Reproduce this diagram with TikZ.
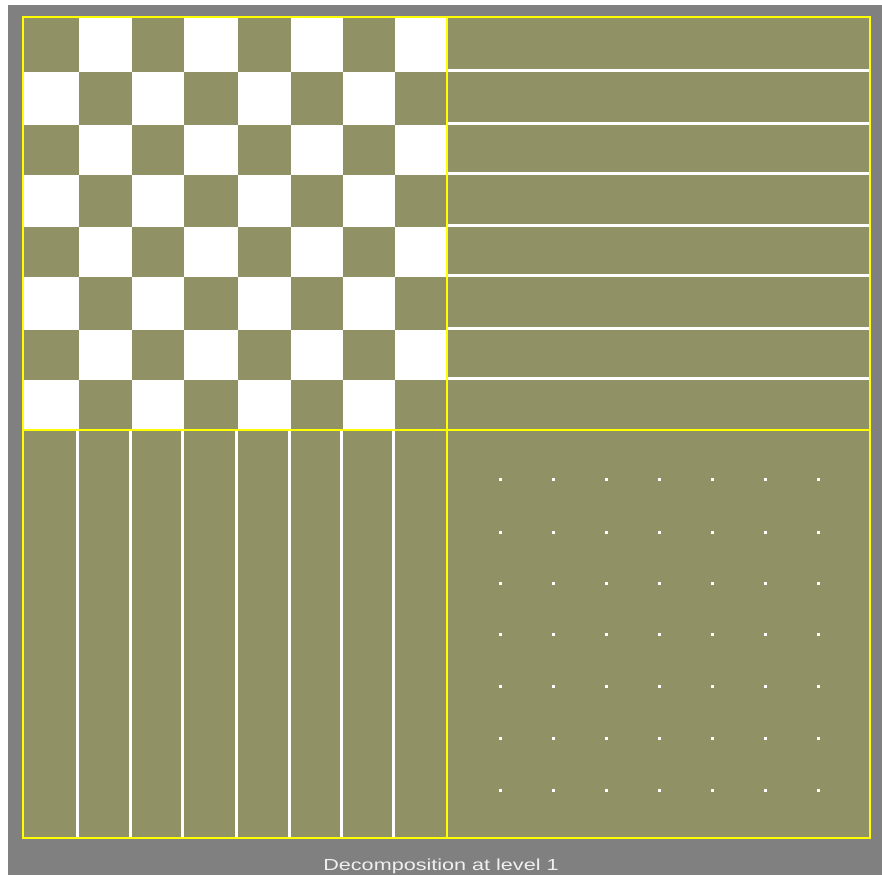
\documentclass[tikz,border=0pt]{standalone}
\usepackage{fontspec}
\setmainfont{Liberation Sans}
\definecolor{panelgray}{RGB}{128,128,128}
\definecolor{bandolive}{RGB}{145,145,102}
\definecolor{frameyellow}{RGB}{255,255,0}
\begin{document}
\begin{tikzpicture}[x=1pt, y=-1pt,
  cell/.style={fill=white},
  stripe/.style={draw=white, line width=3pt},
  dotmark/.style={fill=white},
  frame/.style={draw=frameyellow, line width=2pt},
  caption/.style={font=\fontsize{16}{18}\selectfont, text=white!94!black, inner sep=0pt, anchor=base},
]
\useasboundingbox (0,0) rectangle (882,875);
\fill[white] (0,0) rectangle (882,875);
\fill[panelgray] (8,5) rectangle (882,875);
\fill[bandolive] (23,17) rectangle (870,838);

% Checkerboard (top left)
\foreach \xa/\xb [count=\i] in {23/79,79/131.5,131.5/184,184/238,238/290.5,290.5/343,343/395,395/447}
  \foreach \ya/\yb [count=\j] in {17/72,72/125,125/175,175/227,227/277,277/330,330/380,380/430}
    {\ifodd\numexpr\i+\j\relax \fill[cell] (\xa,\ya) rectangle (\xb,\yb); \fi}

% Horizontal stripes (top right)
\foreach \y in {72,125,175,227,277,330,380}
  \draw[stripe] (447,\y-1.5) -- (870,\y-1.5);

% Vertical stripes (bottom left)
\foreach \x in {79,131.5,184,238,290.5,343,395}
  \draw[stripe] (\x-1.5,430) -- (\x-1.5,838);

% Dots (bottom right)
\foreach \x in {500,553,606,659,712,765,818}
  \foreach \y in {479,532,583,634,686,738,790}
    \fill[dotmark] (\x-1.5,\y-1.5) rectangle ++(3,3);

% Frame
\draw[frame] (23,17) rectangle (870,838);
\draw[frame] (447,17) -- (447,838);
\draw[frame] (23,430) -- (870,430);

% Caption
\node[caption] (title) at (441,870.7) {\scalebox{1.35}[1]{Decomposition at level 1}};
\end{tikzpicture}
\end{document}
